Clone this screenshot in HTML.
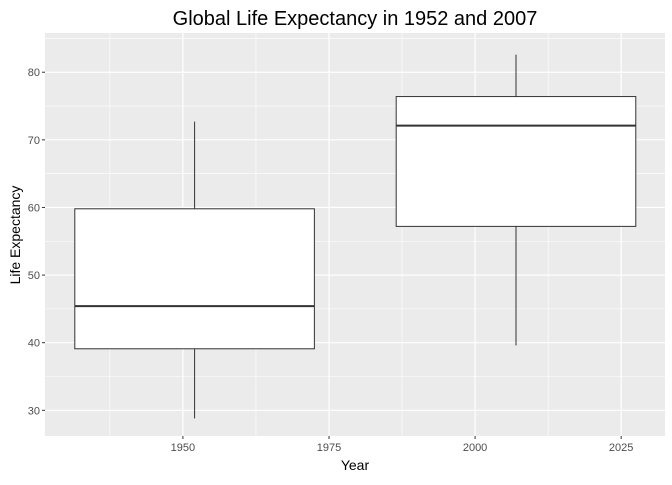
<!DOCTYPE html>
<html><head><meta charset="utf-8"><style>
body{margin:0;background:#fff;}
svg text{font-family:"Liberation Sans",sans-serif;}
</style></head><body>
<svg id="chart" width="672" height="480" xmlns="http://www.w3.org/2000/svg">
<rect x="0" y="0" width="672" height="480" fill="#fff"/>
<text x="355" y="25" font-size="20" text-anchor="middle" fill="#000">Global Life Expectancy in 1952 and 2007</text>
<text x="355" y="470" font-size="14" text-anchor="middle" fill="#000">Year</text>
<text x="20" y="235" font-size="14" text-anchor="middle" fill="#000" transform="rotate(-90 20 235)">Life Expectancy</text>
<g id="plot"></g>
</svg>
<script>
const years=[1952,2007];
const mins=[28.8,39.6];
const q1s=[39.1,57.2];
const medians=[45.4,72.1];
const q3s=[59.8,76.4];
const maxs=[72.7,82.6];
const yTicks=[30,40,50,60,70,80];
const xTicks=[1950,1975,2000,2025];
const L=45,R=665,T=33,B=436;
const x0=1926.4,x1=2032.5,y0=26.2,y1=85.8;
const sx=v=>L+(v-x0)/(x1-x0)*(R-L);
const sy=v=>B-(v-y0)/(y1-y0)*(B-T);
const g=document.getElementById('plot');
const NS='http://www.w3.org/2000/svg';
function mk(t,a){const e=document.createElementNS(NS,t);for(const k in a)e.setAttribute(k,a[k]);g.appendChild(e);return e;}
let p=mk('rect',{x:L,y:T,width:R-L,height:B-T,fill:'#ebebeb'});


for(let i=0;i<yTicks.length;i++){
  const v=yTicks[i]+5;
  if(v<y1){let m=mk('line',{x1:L,x2:R,y1:sy(v),y2:sy(v),stroke:'#fff','stroke-width':0.6});
  
  }
}
for(let i=0;i<xTicks.length;i++){
  const v=xTicks[i]-12.5;
  let m=mk('line',{y1:T,y2:B,x1:sx(v),x2:sx(v),stroke:'#fff','stroke-width':0.6});
  
  
}
yTicks.forEach(v=>{
  let l=mk('line',{x1:L,x2:R,y1:sy(v),y2:sy(v),stroke:'#fff','stroke-width':1.2});
  
  
  let tk=mk('line',{x1:L-3,x2:L,y1:sy(v),y2:sy(v),stroke:'#333','stroke-width':1});
  
  
  let t=mk('text',{x:L-5,y:sy(v)+4,'font-size':11,'text-anchor':'end',fill:'#4d4d4d'});
  t.textContent=v;
  
  
});
xTicks.forEach(v=>{
  let l=mk('line',{y1:T,y2:B,x1:sx(v),x2:sx(v),stroke:'#fff','stroke-width':1.2});
  
  
  let tk=mk('line',{y1:B,y2:B+3,x1:sx(v),x2:sx(v),stroke:'#333','stroke-width':1});
  
  
  let t=mk('text',{x:sx(v),y:B+15,'font-size':11,'text-anchor':'middle',fill:'#4d4d4d'});
  t.textContent=v;
  
  
});
const hw=20.5;
years.forEach((yr,i)=>{
  const cx=sx(yr);
  let w1=mk('line',{x1:cx,x2:cx,y1:sy(q3s[i]),y2:sy(maxs[i]),stroke:'#333','stroke-width':1});
  
  
  let w2=mk('line',{x1:cx,x2:cx,y1:sy(q1s[i]),y2:sy(mins[i]),stroke:'#333','stroke-width':1});
  
  
  let b=mk('rect',{x:sx(yr-hw),y:sy(q3s[i]),width:sx(yr+hw)-sx(yr-hw),height:sy(q1s[i])-sy(q3s[i]),fill:'#fff',stroke:'#333','stroke-width':1});
  
  
  let m=mk('line',{x1:sx(yr-hw),x2:sx(yr+hw),y1:sy(medians[i]),y2:sy(medians[i]),stroke:'#333','stroke-width':2});
  
  
});
</script>
</body></html>
